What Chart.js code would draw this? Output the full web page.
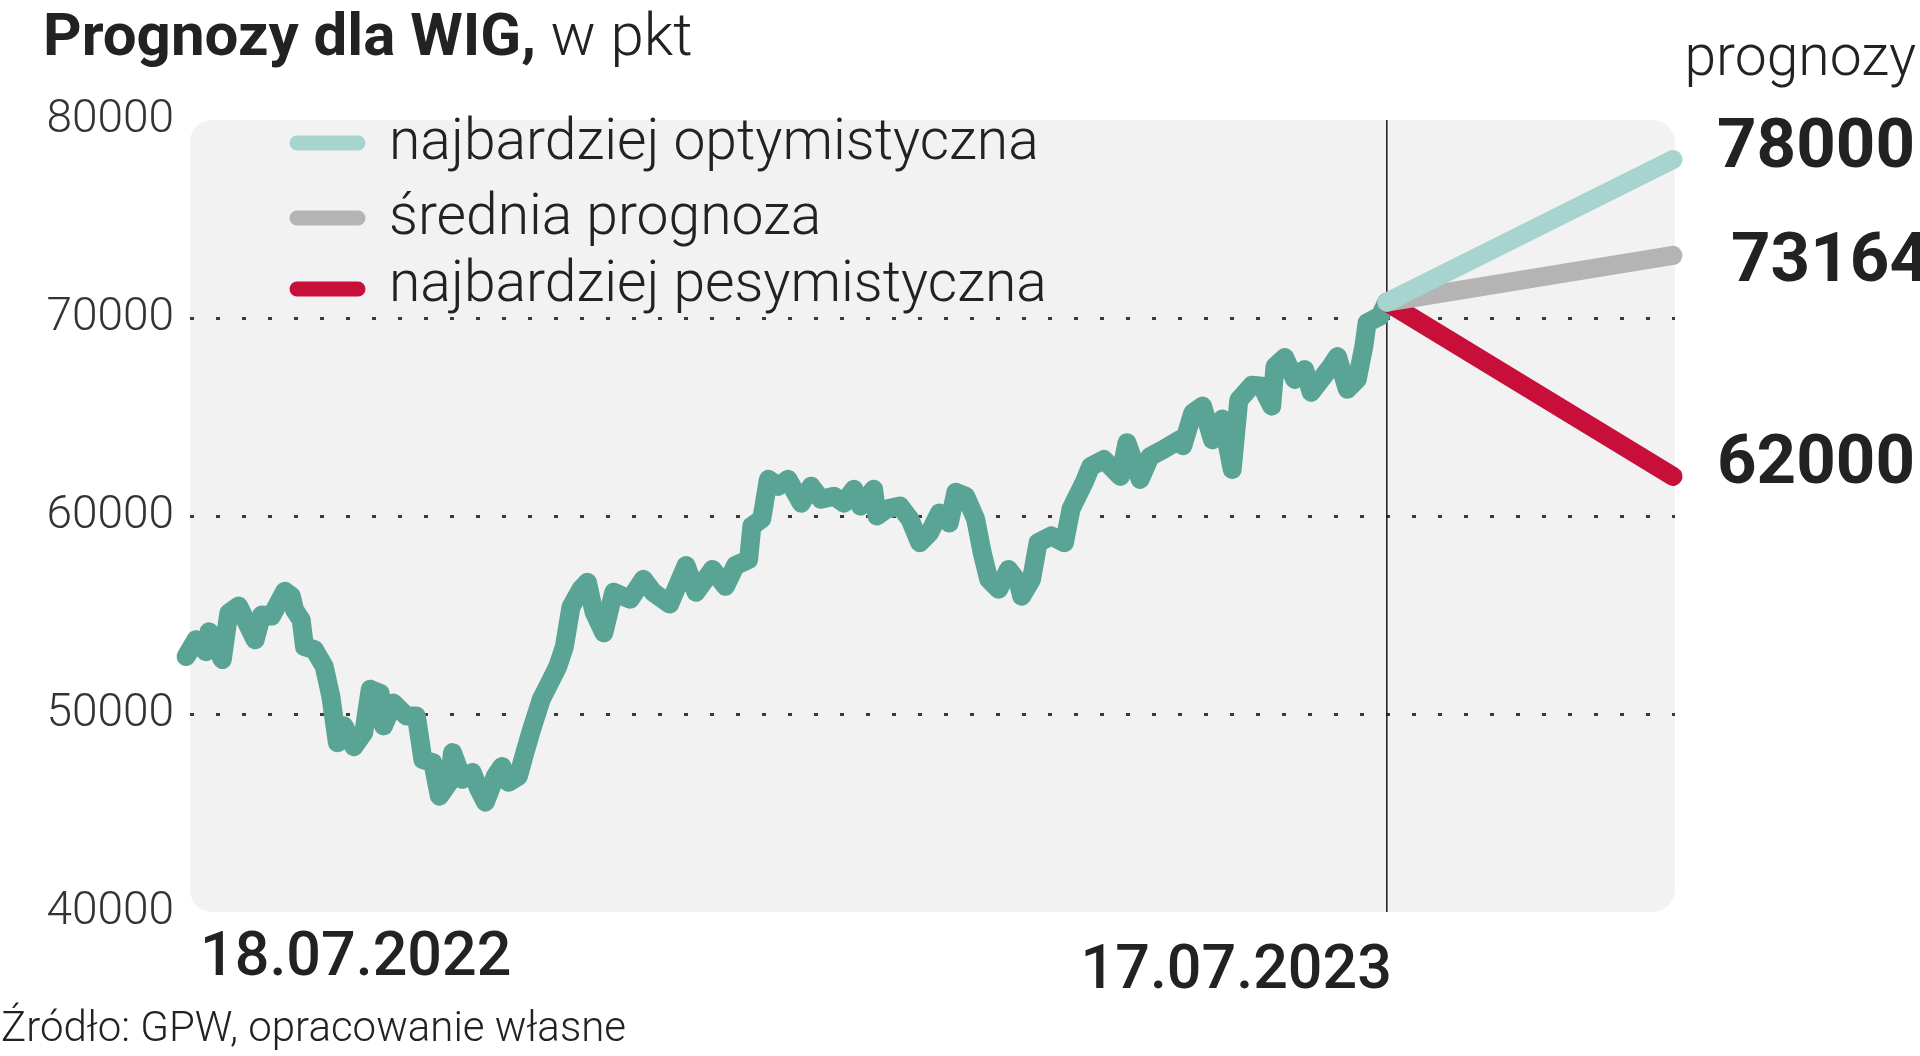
<!DOCTYPE html>
<html lang="pl">
<head>
<meta charset="utf-8">
<title>Prognozy dla WIG</title>
<script src="https://cdn.jsdelivr.net/npm/chart.js@4.4.1/dist/chart.umd.min.js"></script>
<style>
    html, body { margin: 0; padding: 0; background: #fff; }
    #wrap { position: relative; width: 1920px; height: 1056px; overflow: hidden; font-family: Roboto, sans-serif; color: #222; }
    #wigChart { position: absolute; left: 0; top: 0; }
    .title { position: absolute; left: 43px; top: 5px; font-size: 60px; line-height: 60px; font-weight: 300; white-space: nowrap; }
    .title b { font-weight: 700; }
    .forecast-head { position: absolute; right: 4px; top: 27px; font-size: 57px; line-height: 57px; font-weight: 300; }
    .source { position: absolute; left: 1px; top: 1006px; font-size: 42px; line-height: 42px; font-weight: 300; white-space: nowrap; }
</style>
</head>
<body>
<div id="wrap">
    <canvas id="wigChart" width="1920" height="1056"></canvas>
    <div class="title"><b>Prognozy dla WIG,</b> w pkt</div>
    <div class="forecast-head">prognozy</div>
    <div class="source">Źródło: GPW, opracowanie własne</div>
</div>
<script>
// notowania WIG, dni od 18.07.2022
const dayOffsets = [
    0, 3, 6, 7, 11, 13, 16, 21, 23, 26, 30, 32, 33, 35, 36, 39, 42, 44, 46, 48,
    51, 54, 56, 59, 60, 63, 67, 70, 72, 75, 77, 80, 81, 84, 87, 89, 91, 94, 96, 98,
    101, 103, 105, 108, 110, 113, 115, 117, 120, 122, 124, 127, 130, 135, 139, 142, 147, 152, 155, 160,
    164, 167, 171, 172, 175, 177, 180, 183, 187, 190, 193, 197, 200, 203, 205, 209, 210, 213, 217, 220,
    223, 226, 229, 232, 234, 237, 240, 242, 244, 247, 250, 253, 254, 257, 259, 263, 267, 269, 273, 275,
    279, 284, 286, 290, 293, 297, 302, 303, 306, 309, 312, 315, 318, 320, 324, 327, 330, 331, 334, 337,
    340, 342, 345, 348, 350, 353, 356, 358, 359, 363, 365
];
const wigValues = [
    52900, 53750, 53150, 54150, 52750, 55100, 55450, 53750, 55000, 54950, 56200, 55950, 55250, 54750, 53400, 53250, 52400, 50900, 48550, 49400,
    48350, 49050, 51250, 51050, 49400, 50550, 49900, 49900, 47700, 47550, 45850, 46550, 48050, 46700, 47050, 46200, 45550, 46850, 47350, 46550,
    46850, 48050, 49200, 50750, 51400, 52400, 53400, 55400, 56300, 56650, 55150, 54100, 56150, 55800, 56800, 56150, 55550, 57500, 56150, 57300,
    56450, 57500, 57800, 59500, 59850, 61850, 61500, 61850, 60650, 61500, 60850, 61000, 60650, 61350, 60500, 61350, 60000, 60350, 60500, 59850,
    58650, 59150, 60150, 59650, 61200, 61000, 59850, 58150, 56800, 56300, 57300, 56650, 55950, 56800, 58650, 59000, 58650, 60350, 61700, 62500,
    62850, 62000, 63700, 61850, 63000, 63350, 63850, 63550, 65200, 65550, 63850, 64900, 62350, 65850, 66600, 66550, 65550, 67550, 68000, 66900,
    67400, 66250, 66900, 67550, 68050, 66400, 66900, 68550, 69750, 70100, 70800
];

// prognozy
const forecastDays = [365, 452];
const optimisticValues = [70800, 78000];
const averageValues = [70800, 73164];
const pessimisticValues = [70800, 62000];
const forecastLabels = ['najbardziej optymistyczna', 'średnia prognoza', 'najbardziej pesymistyczna'];

// osie
const yTicks = [40000, 50000, 60000, 70000, 80000];
const dateLabels = ['18.07.2022', '17.07.2023'];
const dateLabelDays = [0, 365];

const COLORS = {
    history: '#5aa495',
    optimistic: '#a7d4ce',
    average: '#b4b4b4',
    pessimistic: '#c70f3a',
    text: '#222222'
};

function toPoints(xs, ys) {
    return xs.map((x, i) => ({ x: x, y: ys[i] }));
}

function lineDataset(label, xs, ys, color, order, width) {
    return {
        label: label,
        data: toPoints(xs, ys),
        borderColor: color,
        borderWidth: width,
        borderCapStyle: 'round',
        borderJoinStyle: 'round',
        pointRadius: 0,
        tension: 0,
        fill: false,
        clip: false,
        order: order
    };
}

// szare tło pod wykresem
const panelPlugin = {
    id: 'panel',
    beforeDraw(chart) {
        const { ctx, chartArea } = chart;
        ctx.save();
        ctx.fillStyle = '#f2f2f2';
        ctx.beginPath();
        ctx.roundRect(chartArea.left, chartArea.top, chartArea.right - chartArea.left, chartArea.bottom - chartArea.top, 22);
        ctx.fill();
        ctx.restore();
    },
    beforeDatasetsDraw(chart) {
        // pionowa linia "dziś"
        const { ctx, chartArea } = chart;
        const x = chart.scales.x.getPixelForValue(dateLabelDays[1]);
        ctx.save();
        ctx.strokeStyle = '#1a1a1a';
        ctx.lineWidth = 1.5;
        ctx.beginPath();
        ctx.moveTo(x, chartArea.top);
        ctx.lineTo(x, chartArea.bottom);
        ctx.stroke();
        ctx.restore();
    }
};

// legenda, daty i wartości prognoz
const labelsPlugin = {
    id: 'labels',
    afterDraw(chart) {
        const { ctx } = chart;
        const xScale = chart.scales.x;
        const yScale = chart.scales.y;
        ctx.save();
        ctx.fillStyle = COLORS.text;

        // legenda
        const legendColors = [COLORS.optimistic, COLORS.average, COLORS.pessimistic];
        const markerY = [143, 218, 289];
        const textY = [159, 234, 301];
        ctx.font = '300 57px Roboto';
        ctx.textAlign = 'left';
        ctx.textBaseline = 'alphabetic';
        forecastLabels.forEach((label, i) => {
            ctx.strokeStyle = legendColors[i];
            ctx.lineWidth = 15;
            ctx.lineCap = 'round';
            ctx.beginPath();
            ctx.moveTo(297, markerY[i]);
            ctx.lineTo(358, markerY[i]);
            ctx.stroke();
            ctx.fillText(label, 389, textY[i]);
        });

        // daty pod osią
        ctx.font = '500 61px Roboto';
        ctx.textAlign = 'left';
        ctx.fillText(dateLabels[0], xScale.getPixelForValue(dateLabelDays[0]) + 14, 975);
        ctx.textAlign = 'right';
        ctx.fillText(dateLabels[1], xScale.getPixelForValue(dateLabelDays[1]) + 5, 988);

        // wartości prognoz na końcu linii
        const endValues = [optimisticValues[1], averageValues[1], pessimisticValues[1]];
        const shift = [-10, 8, -11];
        ctx.font = '700 69px Roboto';
        ctx.textAlign = 'left';
        ctx.textBaseline = 'middle';
        endValues.forEach((v, i) => {
            const x = xScale.getPixelForValue(forecastDays[1]) + 44 + (i === 1 ? 14 : 0);
            const y = yScale.getPixelForValue(v) + shift[i];
            ctx.fillText(String(v), x, y);
        });
        ctx.restore();
    }
};

document.addEventListener('DOMContentLoaded', () => {
    const ctx = document.getElementById('wigChart').getContext('2d');

    new Chart(ctx, {
        type: 'line',
        data: {
            datasets: [
                lineDataset(forecastLabels[0], forecastDays, optimisticValues, COLORS.optimistic, 0, 19),
                lineDataset(forecastLabels[1], forecastDays, averageValues, COLORS.average, 1, 19),
                lineDataset(forecastLabels[2], forecastDays, pessimisticValues, COLORS.pessimistic, 2, 19),
                lineDataset('WIG', dayOffsets, wigValues, COLORS.history, 3, 19)
            ]
        },
        options: {
            responsive: false,
            animation: false,
            layout: { padding: { top: 120, right: 245, bottom: 144, left: 0 } },
            scales: {
                x: {
                    type: 'linear',
                    min: 1.2,
                    max: 452.6,
                    display: false
                },
                y: {
                    min: 40000,
                    max: 80000,
                    afterBuildTicks: scale => {
                        scale.ticks = yTicks.map(v => ({ value: v }));
                    },
                    afterFit: scale => { scale.width = 190; },
                    border: { display: false, dash: [4, 22] },
                    grid: {
                        drawTicks: false,
                        lineWidth: 3,
                        color: c => (c.tick && (c.tick.value === 50000 || c.tick.value === 60000 || c.tick.value === 70000)) ? '#3a3a3a' : 'rgba(0,0,0,0)'
                    },
                    ticks: {
                        padding: 16,
                        color: '#333',
                        font: { family: 'Roboto', size: 46, weight: 300 },
                        callback: v => String(v)
                    }
                }
            },
            plugins: {
                legend: { display: false },
                tooltip: { enabled: false }
            }
        },
        plugins: [panelPlugin, labelsPlugin]
    });
});
</script>
</body>
</html>
